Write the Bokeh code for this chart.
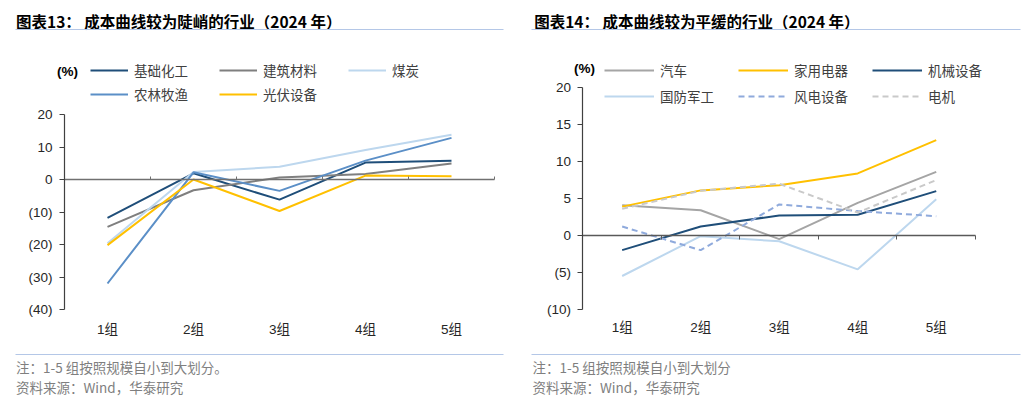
from bokeh.plotting import figure
from bokeh.models import (Range1d, LinearAxis, FixedTicker, Label, BoxAnnotation,
                          Legend, LegendItem)
from bokeh.layouts import row
from bokeh.embed import file_html
from bokeh.resources import INLINE

# ---------------- data ----------------
groups = ["1组", "2组", "3组", "4组", "5组"]

# left chart: steep cost curves
left_names = ["基础化工", "建筑材料", "煤炭", "农林牧渔", "光伏设备"]
chem = [-11.8, 1.9, -6.2, 5.2, 5.8]
building = [-14.6, -3.3, 0.6, 1.7, 4.9]
coal = [-19.6, 2.3, 3.9, 9.1, 13.8]
agri = [-32.0, 2.2, -3.5, 5.8, 12.8]
pv = [-20.2, 0.0, -9.7, 1.2, 1.0]
left_ticks = [-40, -30, -20, -10, 0, 10, 20]
left_tick_labels = ["(40)", "(30)", "(20)", "(10)", "0", "10", "20"]

# right chart: flat cost curves
right_names = ["汽车", "家用电器", "机械设备", "国防军工", "风电设备", "电机"]
auto = [4.1, 3.4, -0.5, 4.4, 8.6]
appliance = [3.9, 6.1, 6.8, 8.4, 12.9]
machinery = [-2.0, 1.2, 2.7, 2.8, 6.0]
defense = [-5.5, -0.1, -0.8, -4.6, 4.9]
wind = [1.2, -2.0, 4.2, 3.3, 2.6]
motor = [3.6, 6.05, 7.0, 3.1, 7.5]
right_ticks = [-10, -5, 0, 5, 10, 15, 20]
right_tick_labels = ["(10)", "(5)", "0", "5", "10", "15", "20"]

left_title = "图表13： 成本曲线较为陡峭的行业（2024 年）"
right_title = "图表14： 成本曲线较为平缓的行业（2024 年）"
left_note = "注：1-5 组按照规模自小到大划分。"
right_note = "注：1-5 组按照规模自小到大划分"
source_text = "资料来源：Wind，华泰研究"

# ---------------- styling ----------------
CJK = "Noto Sans CJK SC"
NUMF = "Liberation Sans, Noto Sans CJK SC"
FIG_W, FIG_H = 512, 396
xs = list(range(1, len(groups) + 1))


def lin_range(v0, p0, v1, p1, lo, hi):
    k = (v1 - v0) / (p1 - p0)
    return Range1d(v0 + (lo - p0) * k, v0 + (hi - p0) * k)


def make_panel(xr, yr, ymin, ymax, ticks, tick_labels, zero_tick_in,
               zero_tick_out, zero_color, label_standoff):
    p = figure(width=FIG_W, height=FIG_H, x_range=xr, y_range=yr,
               output_backend="svg", toolbar_location=None, min_border=0,
               x_axis_location=None, y_axis_location=None,
               outline_line_color=None, background_fill_color="white",
               border_fill_color="white")
    p.xgrid.visible = False
    p.ygrid.visible = False
    yax = LinearAxis(fixed_location=0.5, bounds=(ymin, ymax),
                     ticker=FixedTicker(ticks=ticks),
                     major_label_overrides=dict(zip(ticks, tick_labels)),
                     major_tick_out=5, major_tick_in=0,
                     minor_tick_out=0, minor_tick_in=0,
                     major_label_standoff=7,
                     axis_line_color="#404040", axis_line_width=1.2,
                     major_tick_line_color="#404040",
                     major_label_text_font=NUMF,
                     major_label_text_font_size="13.5px",
                     major_label_text_color="#262626")
    p.add_layout(yax, "left")
    zax = LinearAxis(fixed_location=0, bounds=(0.5, len(groups) + 0.5),
                     ticker=FixedTicker(ticks=[x + 0.5 for x in xs]),
                     major_tick_in=zero_tick_in, major_tick_out=zero_tick_out,
                     minor_tick_out=0, minor_tick_in=0,
                     axis_line_color=zero_color, axis_line_width=1.5,
                     major_tick_line_color=zero_color,
                     major_label_text_alpha=0, major_label_text_font_size="1px")
    p.add_layout(zax, "below")
    lax = LinearAxis(fixed_location=ymin, ticker=FixedTicker(ticks=xs),
                     major_label_overrides=dict(zip(xs, groups)),
                     axis_line_color=None, major_tick_line_color=None,
                     minor_tick_line_color=None, major_tick_out=0, major_tick_in=0,
                     major_label_standoff=label_standoff,
                     major_label_text_font=NUMF,
                     major_label_text_font_size="13.5px",
                     major_label_text_color="#262626")
    p.add_layout(lax, "below")
    return p


def sy(page_y):
    return FIG_H - page_y


def add_text(p, x, y, text, size, color, bold=False, align="left", font=CJK):
    p.add_layout(Label(x=x, y=y, x_units="screen", y_units="screen", text=text,
                       text_font=font, text_font_size=size, text_color=color,
                       text_font_style="bold" if bold else "normal",
                       text_align=align, text_baseline="middle"))


def add_hline(p, x0, x1, y, color):
    p.add_layout(BoxAnnotation(left=x0, right=x1, bottom=y - 0.6, top=y + 0.6,
                               left_units="screen", right_units="screen",
                               bottom_units="screen", top_units="screen",
                               fill_color=color, fill_alpha=1.0, line_color=None,
                               level="overlay"))


def add_legend_item(p, renderer, label, x, y, glyph_w):
    leg = Legend(items=[LegendItem(label=label, renderers=[renderer])],
                 location=(x, y), orientation="horizontal",
                 glyph_width=glyph_w, glyph_height=16, label_height=16,
                 label_standoff=6, padding=0, margin=0, spacing=0,
                 border_line_color=None, background_fill_alpha=0,
                 label_text_font=CJK, label_text_font_size="13.5px",
                 label_text_color="#404040")
    p.add_layout(leg)


# ---------------- left panel (page x 0..512) ----------------
pl = make_panel(lin_range(0.5, 64, 5.5, 494, 0, 512),
                lin_range(20, 114, -40, 309, 396, 0),
                -40, 20, left_ticks, left_tick_labels,
                zero_tick_in=3, zero_tick_out=0, zero_color="#707070",
                label_standoff=12)

left_series = [chem, building, coal, agri, pv]
left_colors = ["#1f4e79", "#7f7f7f", "#bdd7ee", "#5b8fc7", "#ffc000"]
left_r = []
for vals, col in zip(left_series, left_colors):
    left_r.append(pl.line(xs, vals, line_color=col, line_width=2))

add_text(pl, 15.5, sy(20), left_title, "15.5px", "#000000", bold=True)
add_hline(pl, 15, 503, sy(29), "#b4c7e7")
add_text(pl, 67, sy(71), "(%)", "13.5px", "#000000", bold=True, align="center",
         font=NUMF)
left_pos = [(90, 316), (219, 316), (348, 316), (90, 292), (219, 292)]
for r, name, (lx, ly) in zip(left_r, left_names, left_pos):
    add_legend_item(pl, r, name, lx, ly, 38)
add_hline(pl, 15, 503, sy(354), "#b4c7e7")
add_text(pl, 15.5, sy(366), left_note, "13.5px", "#7f7f7f")
add_text(pl, 15.5, sy(386), source_text, "13.5px", "#7f7f7f")

# ---------------- right panel (page x 512..1024) ----------------
pr = make_panel(lin_range(0.5, 582.4, 5.5, 975, 512, 1024),
                lin_range(20, 87.3, -10, 308.7, 396, 0),
                -10, 20, right_ticks, right_tick_labels,
                zero_tick_in=0, zero_tick_out=4, zero_color="#595959",
                label_standoff=11)

right_series = [auto, appliance, machinery, defense, wind, motor]
right_colors = ["#a5a5a5", "#ffc000", "#1f4e79", "#bdd7ee", "#8faadc", "#c9c9c9"]
right_dash = ["solid", "solid", "solid", "solid", "6 4", "6 4"]
right_r = []
for vals, col, dash in zip(right_series, right_colors, right_dash):
    right_r.append(pr.line(xs, vals, line_color=col, line_width=2, line_dash=dash))

add_text(pr, 21.7, sy(20), right_title, "15.5px", "#000000", bold=True)
add_hline(pr, 19, 508, sy(29), "#b4c7e7")
add_text(pr, 72, sy(68), "(%)", "13.5px", "#000000", bold=True, align="center",
         font=NUMF)
right_pos = [(92, 316), (226, 316), (360, 316), (92, 290), (226, 290), (360, 290)]
for r, name, (lx, ly) in zip(right_r, right_names, right_pos):
    add_legend_item(pr, r, name, lx, ly, 50)
add_hline(pr, 19, 508, sy(354), "#b4c7e7")
add_text(pr, 20, sy(366), right_note, "13.5px", "#7f7f7f")
add_text(pr, 20, sy(386), source_text, "13.5px", "#7f7f7f")

layout = row(pl, pr, spacing=0)
open("out.html", "w").write(file_html(layout, INLINE))
